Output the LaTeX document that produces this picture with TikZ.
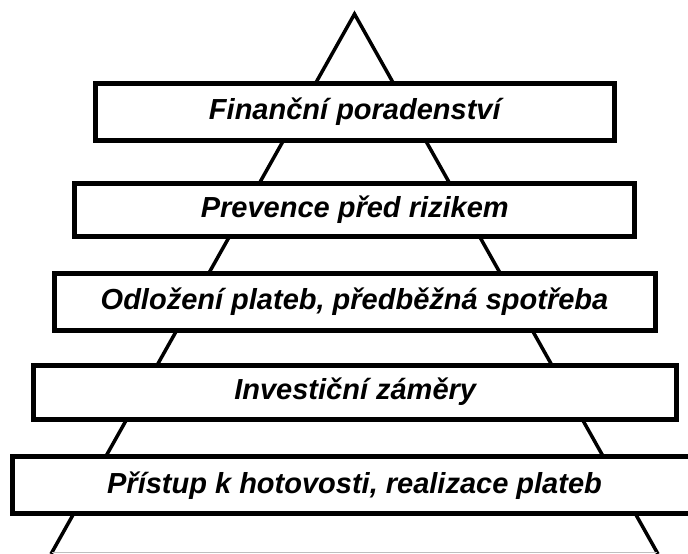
\documentclass[tikz,border=0pt]{standalone}
\usepackage{fontspec}
\setmainfont{Liberation Sans}
\begin{document}
\begin{tikzpicture}[x=1pt,y=-1pt,
  tier/.style={draw=black, line width=5pt, fill=white, inner sep=0pt,
    font=\fontsize{29}{32}\selectfont\bfseries\itshape},
  leg/.style={draw=black, line width=3.5pt}]
\useasboundingbox (0,0) rectangle (688,554);
\clip (0,0) rectangle (688,554);
\coordinate (apex) at (354.5,14);
\coordinate (bl) at (51,554);
\coordinate (br) at (658,554);
\coordinate (gl) at (52,552.5);
\coordinate (gr) at (657,552.5);
\draw[leg, line join=miter] (bl) -- (apex) -- (br);
\draw[gray!50, line width=1pt] (gl) -- (gr);
\node[tier, minimum width=518.5pt, minimum height=57pt] (b1) at (354.8,111.5) {Finanční poradenství};
\node[tier, minimum width=560pt, minimum height=53.7pt] (b2) at (354.8,209.9) {Prevence před rizikem};
\node[tier, minimum width=601pt, minimum height=56.7pt] (b3) at (354.5,301.7) {Odložení plateb, předběžná spotřeba};
\node[tier, minimum width=643.5pt, minimum height=54pt] (b4) at (355.2,392) {Investiční záměry};
\node[tier, minimum width=685pt, minimum height=57.3pt] (b5) at (354.5,485.3) {Přístup k hotovosti, realizace plateb};
\end{tikzpicture}
\end{document}
